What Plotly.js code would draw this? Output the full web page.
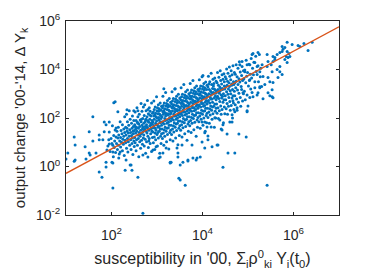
<!DOCTYPE html>
<html>
<head>
<meta charset="utf-8">
<script src="https://cdn.plot.ly/plotly-3.0.1.min.js"></script>
<style>html,body{margin:0;padding:0;background:#fff;}#chart{width:374px;height:280px;}</style>
</head>
<body>
<div id="chart"></div>
<script>
// Each point is [log10(susceptibility), log10(output change)].
const coreLow = [
[1.92,0.85],[1.95,1.42],[1.97,0.62],[1.99,1.15],[2.01,0.95],[2.02,1.68],[2.04,0.40],[2.05,1.28],[2.06,0.78],[2.07,1.05],[2.08,1.51],[2.09,0.58],[2.10,1.22],[1.94,1.10],[2.03,0.88],
[2.11,0.95],[2.12,1.45],[2.13,0.70],[2.14,1.18],[2.15,1.62],[2.15,0.88],[2.16,1.30],[2.17,0.52],[2.18,1.05],[2.19,1.85],[2.20,1.20],[2.20,0.80],[2.21,1.48],[2.22,1.00],[2.23,1.35],[2.24,0.65],[2.24,1.72],[2.25,1.12],[2.26,0.92],[2.27,1.55],[2.27,1.25],[2.28,0.45],[2.29,1.40],[2.29,2.05],[2.30,1.08],
[2.31,1.62],[2.31,0.98],[2.32,1.30],[2.33,2.15],[2.33,0.75],[2.34,1.45],[2.35,1.15],[2.35,1.85],[2.36,0.60],[2.37,1.38],[2.37,1.02],[2.38,1.70],[2.39,1.25],[2.39,2.30],[2.40,0.88],[2.40,1.52],[2.41,1.95],[2.42,1.10],[2.42,1.40],[2.43,0.70],[2.44,1.78],[2.44,1.28],[2.45,1.58],[2.45,0.95],[2.46,2.08],[2.46,1.18],[2.47,1.45],[2.47,0.50],[2.48,1.65],[2.48,1.35],[2.49,1.05],[2.49,1.90],[2.50,1.48],[2.50,0.82],[2.34,1.58],
[2.51,1.72],[2.51,1.20],[2.52,2.25],[2.52,0.98],[2.53,1.55],[2.53,1.38],[2.54,1.90],[2.54,0.65],[2.55,1.62],[2.55,1.10],[2.56,2.42],[2.56,1.45],[2.57,1.82],[2.57,0.88],[2.58,1.30],[2.58,2.05],[2.59,1.58],[2.59,1.15],[2.60,0.40],[2.60,1.75],[2.61,1.40],[2.61,2.15],[2.62,1.02],[2.62,1.65],[2.63,1.92],[2.63,1.25],[2.64,0.75],[2.64,1.50],[2.65,2.60],[2.65,1.85],[2.66,1.35],[2.66,1.08],[2.67,1.70],[2.67,2.28],[2.68,1.55],[2.68,0.92],[2.69,1.98],[2.69,1.42],[2.70,1.18],[2.70,2.45],[2.52,1.65],[2.58,1.78],[2.62,1.32],[2.66,1.95],[2.69,1.62],
[2.71,1.78],[2.71,1.30],[2.72,2.10],[2.72,0.85],[2.73,1.55],[2.73,2.55],[2.74,1.65],[2.74,1.12],[2.75,1.92],[2.75,0.55],[2.76,1.45],[2.76,2.30],[2.77,1.72],[2.77,1.02],[2.78,2.05],[2.78,1.38],[2.79,2.72],[2.79,1.60],[2.80,1.25],[2.80,1.88],[2.81,0.78],[2.81,2.18],[2.82,1.50],[2.82,1.82],[2.83,2.42],[2.83,1.15],[2.84,1.68],[2.84,1.95],[2.85,0.95],[2.85,2.28],[2.86,1.55],[2.86,1.35],[2.87,2.08],[2.87,1.78],[2.88,0.62],[2.88,2.62],[2.89,1.45],[2.89,1.90],[2.90,1.20],[2.90,2.20],[2.72,1.48],[2.74,1.85],[2.76,1.95],[2.78,1.62],[2.80,2.35],[2.82,1.05],[2.84,2.12],[2.86,1.70],[2.88,1.58],[2.90,1.75],
[2.91,1.85],[2.91,1.42],[2.92,2.25],[2.92,0.98],[2.93,1.68],[2.93,2.70],[2.94,1.95],[2.94,1.22],[2.95,2.12],[2.95,0.70],[2.96,1.58],[2.96,2.45],[2.97,1.78],[2.97,1.10],[2.98,2.05],[2.98,1.50],[2.99,2.88],[2.99,1.88]
];
const coreMid = [
[3.00,1.32],[3.00,2.30],[3.01,0.85],[3.01,1.72],[3.02,2.18],[3.02,1.62],[3.03,2.55],[3.03,1.18],[3.04,1.92],[3.04,2.02],[3.05,1.45],[3.05,2.38],[3.06,0.55],[3.06,1.80],[3.07,2.62],[3.07,1.55],[3.08,1.25],[3.08,2.10],[3.09,1.98],[3.09,0.95],[3.10,2.48],[3.10,1.70],[2.92,1.60],[2.94,2.35],[2.96,1.38],[2.98,1.72],[3.00,2.00],[3.02,1.40],[3.04,2.28],[3.06,2.15],[3.08,1.85],[3.10,1.35],[2.93,2.08],[2.97,2.20],[3.01,2.42],[3.05,1.65],[3.09,2.32],
[3.11,2.05],[3.11,1.55],[3.12,2.42],[3.12,1.15],[3.13,1.85],[3.13,2.90],[3.14,2.15],[3.14,1.38],[3.15,2.30],[3.15,0.88],[3.16,1.75],[3.16,2.62],[3.17,1.98],[3.17,1.25],[3.18,2.22],[3.18,1.62],[3.19,3.05],[3.19,2.08],[3.20,1.45],[3.20,2.50],[3.21,1.02],[3.21,1.92],[3.22,2.35],[3.22,1.78],[3.23,2.72],[3.23,1.32],[3.24,2.12],[3.24,2.18],[3.25,1.60],[3.25,2.55],[3.26,0.72],[3.26,1.95],[3.27,2.80],[3.27,1.70],[3.28,1.40],[3.28,2.28],[3.29,2.15],[3.29,1.10],[3.30,2.65],[3.30,1.88],[3.12,1.80],[3.14,2.52],[3.16,1.52],[3.18,1.90],[3.20,2.18],[3.22,1.58],[3.24,2.45],[3.26,2.32],[3.28,2.02],[3.30,1.50],[3.13,2.25],[3.17,2.38],[3.21,2.60],[3.25,1.82],[3.29,2.48],
[3.31,2.22],[3.31,1.70],[3.32,2.58],[3.32,1.32],[3.33,2.02],[3.33,3.08],[3.34,2.30],[3.34,1.55],[3.35,2.48],[3.35,1.05],[3.36,1.92],[3.36,2.80],[3.37,2.15],[3.37,1.42],[3.38,2.40],[3.38,1.80],[3.39,3.20],[3.39,2.25],[3.40,1.62],[3.40,2.68],[3.41,1.18],[3.41,2.08],[3.42,2.52],[3.42,1.95],[3.43,2.90],[3.43,1.48],[3.44,2.30],[3.44,2.35],[3.45,1.78],[3.45,2.72],[3.46,0.90],[3.46,2.12],[3.47,2.98],[3.47,1.88],[3.48,1.58],[3.48,2.45],[3.49,2.32],[3.49,1.28],[3.50,2.82],[3.50,2.05],[3.32,1.98],[3.34,2.70],[3.36,1.68],[3.38,2.08],[3.40,2.35],[3.42,1.75],[3.44,2.62],[3.46,2.50],[3.48,2.20],[3.50,1.68],[3.33,2.42],[3.37,2.55],[3.41,2.78],[3.45,2.00],[3.49,2.65],
[3.51,2.40],[3.51,1.88],[3.52,2.75],[3.52,1.50],[3.53,2.20],[3.53,3.25],[3.54,2.48],[3.54,1.72],[3.55,2.65],[3.55,1.22],[3.56,2.10],[3.56,2.98],[3.57,2.32],[3.57,1.60],[3.58,2.58],[3.58,1.98],[3.59,3.38],[3.59,2.42],[3.60,1.80],[3.60,2.85],[3.61,1.35],[3.61,2.25],[3.62,2.70],[3.62,2.12],[3.63,3.08],[3.63,1.65],[3.64,2.48],[3.64,2.52],[3.65,1.95],[3.65,2.90],[3.66,1.08],[3.66,2.30],[3.67,3.15],[3.67,2.05],[3.68,1.75],[3.68,2.62],[3.69,2.50],[3.69,1.45],[3.70,3.00],[3.70,2.22],[3.52,2.15],[3.54,2.88],[3.56,1.85],[3.58,2.25],[3.60,2.52],[3.62,1.92],[3.64,2.80],[3.66,2.68],[3.68,2.38],[3.70,1.85],[3.53,2.60],[3.57,2.72],[3.61,2.95],[3.65,2.18],[3.69,2.82],
[3.71,2.58],[3.71,2.05],[3.72,2.92],[3.72,1.68],[3.73,2.38],[3.73,3.42],[3.74,2.65],[3.74,1.90],[3.75,2.82],[3.75,1.40],[3.76,2.28],[3.76,3.15],[3.77,2.50],[3.77,1.78],[3.78,2.75],[3.78,2.15],[3.79,3.55],[3.79,2.60],[3.80,1.98],[3.80,3.02],[3.81,1.52],[3.81,2.42],[3.82,2.88],[3.82,2.30],[3.83,3.25],[3.83,1.82],[3.84,2.65],[3.84,2.70],[3.85,2.12],[3.85,3.08],[3.86,1.25],[3.86,2.48],[3.87,3.32],[3.87,2.22],[3.88,1.92],[3.88,2.80],[3.89,2.68],[3.89,1.62],[3.90,3.18],[3.90,2.40],[3.72,2.32],[3.74,3.05],[3.76,2.02],[3.78,2.42],[3.80,2.70],[3.82,2.10],[3.84,2.98],[3.86,2.85],[3.88,2.55],[3.90,2.02],[3.73,2.78],[3.77,2.90],[3.81,3.12],[3.85,2.35],[3.89,3.00],
[3.91,2.75],[3.91,2.22],[3.92,3.10],[3.92,1.85],[3.93,2.55],[3.93,3.58],[3.94,2.82],[3.94,2.08],[3.95,3.00],[3.95,1.58],[3.96,2.45],[3.96,3.32],[3.97,2.68],[3.97,1.95],[3.98,2.92],[3.98,2.32],[3.99,3.70],[3.99,2.78]
];
const coreHigh = [
[4.00,2.15],[4.00,3.20],[4.01,1.70],[4.01,2.60],[4.02,3.05],[4.02,2.48],[4.03,3.42],[4.03,2.00],[4.04,2.82],[4.04,2.88],[4.05,2.30],[4.05,3.25],[4.06,1.45],[4.06,2.65],[4.07,3.48],[4.07,2.40],[4.08,2.10],[4.08,2.98],[4.09,2.85],[4.09,1.80],[4.10,3.35],[4.10,2.58],[3.92,2.50],[3.94,3.22],[3.96,2.20],[3.98,2.60],[4.00,2.88],[4.02,2.28],[4.04,3.15],[4.06,3.02],[4.08,2.72],[4.10,2.20],[3.93,2.95],[3.97,3.08],[4.01,3.30],[4.05,2.52],[4.09,3.18],
[4.11,2.92],[4.11,2.40],[4.12,3.28],[4.12,2.02],[4.13,2.72],[4.13,3.72],[4.14,3.00],[4.14,2.25],[4.15,3.18],[4.15,1.78],[4.16,2.62],[4.16,3.50],[4.17,2.85],[4.17,2.12],[4.18,3.10],[4.18,2.50],[4.19,3.85],[4.19,2.95],[4.20,2.32],[4.20,3.38],[4.21,1.95],[4.21,2.78],[4.22,3.22],[4.22,2.65],[4.23,3.60],[4.23,2.18],[4.24,3.00],[4.24,3.05],[4.25,2.48],[4.25,3.42],[4.26,1.62],[4.26,2.82],[4.27,3.65],[4.27,2.58],[4.28,2.28],[4.28,3.15],[4.29,3.02],[4.29,2.00],[4.30,3.52],[4.30,2.75],[4.12,2.68],[4.14,3.40],[4.16,2.38],[4.18,2.78],[4.20,3.05],[4.22,2.45],[4.24,3.32],[4.26,3.20],[4.28,2.90],[4.30,2.40],
[4.31,3.10],[4.31,2.58],[4.32,3.45],[4.32,2.20],[4.33,2.90],[4.33,3.88],[4.34,3.18],[4.34,2.42],[4.35,3.35],[4.35,1.98],[4.36,2.80],[4.36,3.68],[4.37,3.02],[4.37,2.30],[4.38,3.28],[4.38,2.68],[4.39,3.95],[4.39,3.12],[4.40,2.50],[4.40,3.55],[4.41,2.15],[4.41,2.95],[4.42,3.40],[4.42,2.82],[4.43,3.78],[4.43,2.35],[4.44,3.18],[4.44,3.22],[4.45,2.65],[4.45,3.60],[4.46,1.80],[4.46,3.00],[4.47,3.82],[4.47,2.75],[4.48,2.45],[4.48,3.32],[4.49,3.20],[4.49,2.18],[4.50,3.70],[4.50,2.92],[4.32,2.85],[4.36,3.05],[4.40,3.22],[4.44,2.90],[4.48,3.50],
[4.51,3.28],[4.51,2.75],[4.52,3.62],[4.52,2.38],[4.53,3.08],[4.53,4.02],[4.54,3.35],[4.54,2.60],[4.55,3.52],[4.55,2.15],[4.56,2.98],[4.56,3.85],[4.57,3.20],[4.57,2.48],[4.58,3.45],[4.58,2.85],[4.59,4.10],[4.59,3.30],[4.60,2.68],[4.60,3.72],[4.61,2.32],[4.61,3.12],[4.62,3.58],[4.62,3.00],[4.63,3.95],[4.63,2.52],[4.64,3.35],[4.64,3.40],[4.65,2.82],[4.65,3.78],[4.66,2.00],[4.66,3.18],[4.67,4.15],[4.67,2.92],[4.68,2.62],[4.68,3.50],[4.69,3.38],[4.69,2.35],[4.70,3.88],[4.70,3.10],
[4.71,3.45],[4.71,2.92],[4.72,3.80],[4.72,2.55],[4.73,3.25],[4.74,4.20],[4.74,3.52],[4.75,2.78],[4.76,3.70],[4.76,2.32],[4.77,3.15],[4.78,4.05],[4.78,3.38],[4.79,2.65],[4.80,3.62],[4.80,3.02],[4.81,4.32],[4.82,3.48],[4.83,2.85],[4.83,3.90],[4.84,2.48],[4.85,3.30],[4.86,3.75],[4.86,3.18],[4.87,4.12],[4.88,2.70],[4.88,3.55],[4.89,3.58],[4.90,3.00],[4.90,3.95],
[4.91,3.62],[4.92,3.10],[4.93,3.98],[4.94,2.75],[4.95,3.45],[4.96,4.38],[4.97,3.72],[4.98,2.95],[4.99,3.88],[5.00,2.50],[5.01,3.32],[5.02,4.22],[5.03,3.55],[5.04,2.85],[5.05,3.80],[5.06,3.20],[5.07,4.45],[5.08,3.65],[5.09,3.05],[5.10,4.05],
[5.12,3.78],[5.13,4.30],[5.15,3.25],[5.17,4.55],[5.18,3.92],[5.20,2.95],[5.22,4.15],[5.23,3.50],[5.25,4.62],[5.27,3.70],[5.28,4.05],[5.30,3.30]
];
const outliersHigh = [
[5.09,4.62],[5.11,4.66],[5.22,4.70],[5.42,4.62],[5.55,4.54],[5.59,4.49],[5.64,4.62],[5.44,4.33],[5.51,4.20],[5.55,4.33],[5.70,4.12],[5.70,3.91],[5.64,4.00],[5.75,3.79],[5.66,3.67],[5.53,3.91],[5.42,4.12],[5.31,4.20],[5.20,4.12],[5.26,3.91],[5.15,4.29],[5.04,4.20],[4.98,4.20],[4.87,4.33],[4.82,4.20],[4.93,3.91],[5.20,3.79],[5.33,3.71],[5.44,3.67],[5.48,3.50],[5.55,3.46],[5.37,3.38],[5.26,3.29],[5.15,3.50],[5.04,3.58],[5.53,3.17],[5.44,3.04],[5.22,3.04],[5.11,2.88],[5.55,2.84],[5.33,2.79],[4.98,2.30],[4.76,2.42],[4.67,2.71],[4.89,3.04],[5.48,2.92],
[5.75,4.95],[5.77,4.83],[5.70,4.70],[5.86,4.74],[5.90,4.66],[5.88,4.49],[5.81,4.41],[5.84,4.54],[5.92,4.54],[5.86,4.29],[5.86,5.12],[5.97,5.03],[6.10,4.99],[6.14,4.95],[6.23,5.07],[6.41,5.12],[6.32,4.78],[5.81,4.91],[5.75,4.74],[5.59,4.41],[5.53,2.88],[5.26,3.25],[4.98,2.26],[4.71,2.26],[4.65,1.84],[4.41,1.55]
];
const outliersLow = [
[1.59,2.05],[1.18,1.22],[1.00,0.31],[1.18,0.22],[1.44,0.31],[1.51,0.56],[1.66,0.56],[1.81,1.10],[1.73,1.10],[1.59,1.05],[1.88,0.18],[2.03,0.14],[1.88,-0.02],[1.73,-0.23],[1.79,-0.44],[2.03,-0.89],[2.30,-0.15],[2.45,-0.15],[2.58,-0.44],[2.43,0.06],[2.69,-1.93],[3.48,-0.48],[3.51,-0.56],[3.62,-0.77],[3.31,0.18],[3.57,0.18],[3.79,0.35],[3.86,0.27],[3.04,0.35],[3.20,0.76],[2.98,0.81],[2.80,0.39],[2.32,0.27],[2.16,0.35],[2.03,0.60],[1.95,0.93],[1.84,1.43],[1.88,1.72],[1.84,1.84],[1.95,1.84],[1.51,1.43],[1.73,1.30],[2.10,1.59],[2.05,2.63],[2.14,2.26],[2.34,2.34],[2.49,2.30],[2.58,2.30],[3.15,3.21],[3.40,3.21],[4.01,3.75],
[4.45,-0.03],[5.42,-0.77],[4.56,0.56],[4.71,0.56],[4.32,0.89],[4.05,0.76],[3.95,0.39],[3.68,0.27],[4.21,0.81],[4.34,0.89],[4.12,1.10],[3.99,1.01],[4.96,1.22],[4.80,1.34],[4.54,1.34],[4.43,1.51],[4.45,1.72],[4.60,1.84],[4.65,2.13],[4.38,1.92],[4.27,2.01],[4.19,1.63],[4.10,1.63],[4.05,1.39],[4.12,1.26],[3.99,1.84],[4.05,1.84],
[1.04,0.56],[1.20,0.27],[1.53,0.47],[1.20,0.89],[1.42,0.81],[1.90,0.68],[2.19,0.60],[3.07,0.39],[3.29,0.18],[3.46,0.56],[3.51,0.06],
[2.01,0.18],[2.41,0.06],[3.29,0.14],[3.46,0.39],[3.68,0.23],[3.88,0.35],[2.69,0.47],[2.91,0.68],[3.13,0.56],[3.44,0.76],[3.55,0.89],[3.77,0.89],[2.08,2.67]
];
// Fitted line end points
const fitX = [1e1, 1e7];
const fitY = [0.525, 5.75e5];

const xTickVals = [1e2, 1e4, 1e6];
const xTickText = ['10<sup>2</sup>', '10<sup>4</sup>', '10<sup>6</sup>'];
const yTickVals = [1e-2, 1e0, 1e2, 1e4, 1e6];
const yTickText = ['10<sup>-2</sup>', '10<sup>0</sup>', '10<sup>2</sup>', '10<sup>4</sup>', '10<sup>6</sup>'];

const allPts = coreLow.concat(coreMid, coreHigh, outliersHigh, outliersLow);
const px = allPts.map(p => Math.pow(10, p[0]));
const py = allPts.map(p => Math.pow(10, p[1]));

const fontFam = 'Liberation Sans, Arial, Helvetica, sans-serif';
const ink = '#262626';

const data = [
  {x: px, y: py, type: 'scatter', mode: 'markers',
   marker: {color: '#0072BD', size: 3, line: {width: 0}}, hoverinfo: 'skip'},
  {x: fitX, y: fitY, type: 'scatter', mode: 'lines',
   line: {color: '#D95319', width: 1.4}, hoverinfo: 'skip'}
];

const axisCommon = {
  type: 'log', showgrid: false, zeroline: false, showline: true, mirror: 'ticks',
  linecolor: ink, linewidth: 1, ticks: 'inside', ticklen: 3, tickwidth: 1, tickcolor: ink,
  tickfont: {family: fontFam, size: 14, color: ink}, automargin: false
};

const layout = {
  width: 374, height: 280,
  margin: {l: 66, r: 35, t: 21, b: 65, pad: 0},
  paper_bgcolor: '#fff', plot_bgcolor: '#fff', showlegend: false,
  font: {family: fontFam, color: ink, size: 14},
  xaxis: Object.assign({}, axisCommon, {
    range: [1, 7], tickvals: xTickVals, ticktext: xTickText, ticklabelstandoff: 7,
    title: {text: "susceptibility in '00, Σ<sub>i</sub>ρ<sup>0</sup><sub>ki</sub> Y<sub>i</sub>(t<sub>0</sub>)", font: {family: fontFam, size: 16, color: ink}, standoff: 11}
  }),
  yaxis: Object.assign({}, axisCommon, {
    range: [-2, 6], tickvals: yTickVals, ticktext: yTickText, ticklabelstandoff: 2,
    title: {text: "output change '00-'14, Δ Y<sub>k</sub>", font: {family: fontFam, size: 15, color: ink}, standoff: 6}
  })
};

Plotly.newPlot('chart', data, layout, {staticPlot: true, displayModeBar: false});
</script>
</body>
</html>
